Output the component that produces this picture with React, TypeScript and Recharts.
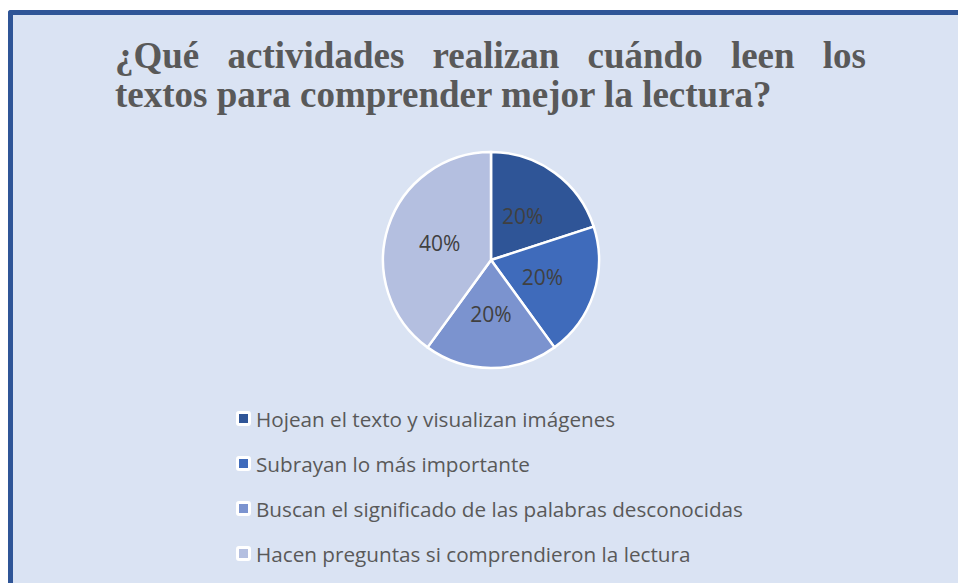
import { PieChart, Pie, Cell, Legend } from 'recharts';

const activities = [
  'Hojean el texto y visualizan imágenes',
  'Subrayan lo más importante',
  'Buscan el significado de las palabras desconocidas',
  'Hacen preguntas si comprendieron la lectura',
];
const shares = [20, 20, 20, 40];
const sliceColors = ['#2f5597', '#3f6bbb', '#7b93cf', '#b4bfe0'];

const titleLines = [
  '¿Qué actividades realizan cuándo leen los',
  'textos para comprender mejor la lectura?',
];

const pieData = activities.map((name, i) => ({ name, value: shares[i] }));

const RADIAN = Math.PI / 180;

const renderLabel = ({ cx, cy, midAngle, outerRadius, percent }: any) => {
  const r = outerRadius * 0.5;
  const x = cx + r * Math.cos(-midAngle * RADIAN);
  const y = cy + r * Math.sin(-midAngle * RADIAN);
  return (
    <text
      x={x}
      y={y}
      fill="#404040"
      fontSize={21}
      fontFamily="'Open Sans', sans-serif"
      textAnchor="middle"
      dominantBaseline="central"
    >
      {`${Math.round(percent * 100)}%`}
    </text>
  );
};

const LegendList = ({ payload }: any) => {
  const items = [...(payload || [])].sort(
    (a: any, b: any) => activities.indexOf(a.value) - activities.indexOf(b.value)
  );
  return (
    <div style={{ fontFamily: "'Open Sans', sans-serif" }}>
      {items.map((entry: any, i: number) => (
        <div key={i} style={{ display: 'flex', alignItems: 'center', height: 45 }}>
          <span
            style={{
              width: 9,
              height: 9,
              border: '3.5px solid #fff',
              borderRadius: 3,
              background: entry.color,
              marginRight: 5,
              flexShrink: 0,
            }}
          />
          <span style={{ fontSize: 20.7, color: '#595959', whiteSpace: 'nowrap' }}>{entry.value}</span>
        </div>
      ))}
    </div>
  );
};

const App = () => {
  return (
    <div style={{ position: 'fixed', left: 0, top: 0, width: 958, height: 583, background: '#fff', overflow: 'hidden' }}>
      {/* frame, open to the right and bottom like the cropped original */}
      <div
        style={{
          position: 'absolute',
          left: 8,
          top: 10,
          width: 1000,
          height: 640,
          borderTop: '5px solid #2f5597',
          borderLeft: '5px solid #2f5597',
          borderTopLeftRadius: 3,
          background: '#dae3f3',
        }}
      />
      {/* title */}
      <div
        style={{
          position: 'absolute',
          left: 115,
          top: 36,
          width: 751,
          fontFamily: "'Liberation Serif', 'Times New Roman', serif",
          fontWeight: 'bold',
          fontSize: 37,
          lineHeight: '39px',
          color: '#595959',
        }}
      >
        <div style={{ textAlign: 'justify', textAlignLast: 'justify' }}>{titleLines[0]}</div>
        <div>{titleLines[1]}</div>
      </div>
      <div style={{ position: 'absolute', left: 0, top: 0 }}>
        <PieChart width={958} height={583} margin={{ top: 0, right: 0, bottom: 0, left: 0 }}>
          <Pie
            data={pieData}
            dataKey="value"
            nameKey="name"
            cx={491}
            cy={260}
            outerRadius={108}
            startAngle={90}
            endAngle={-270}
            stroke="#fff"
            strokeWidth={2.5}
            labelLine={false}
            label={renderLabel}
            isAnimationActive={false}
          >
            {pieData.map((_, i) => (
              <Cell key={i} fill={sliceColors[i]} />
            ))}
          </Pie>
          <Legend
            layout="vertical"
            content={<LegendList />}
            wrapperStyle={{ position: 'absolute', left: 236, top: 396, width: 650 }}
          />
        </PieChart>
      </div>
    </div>
  );
};

export default App;
